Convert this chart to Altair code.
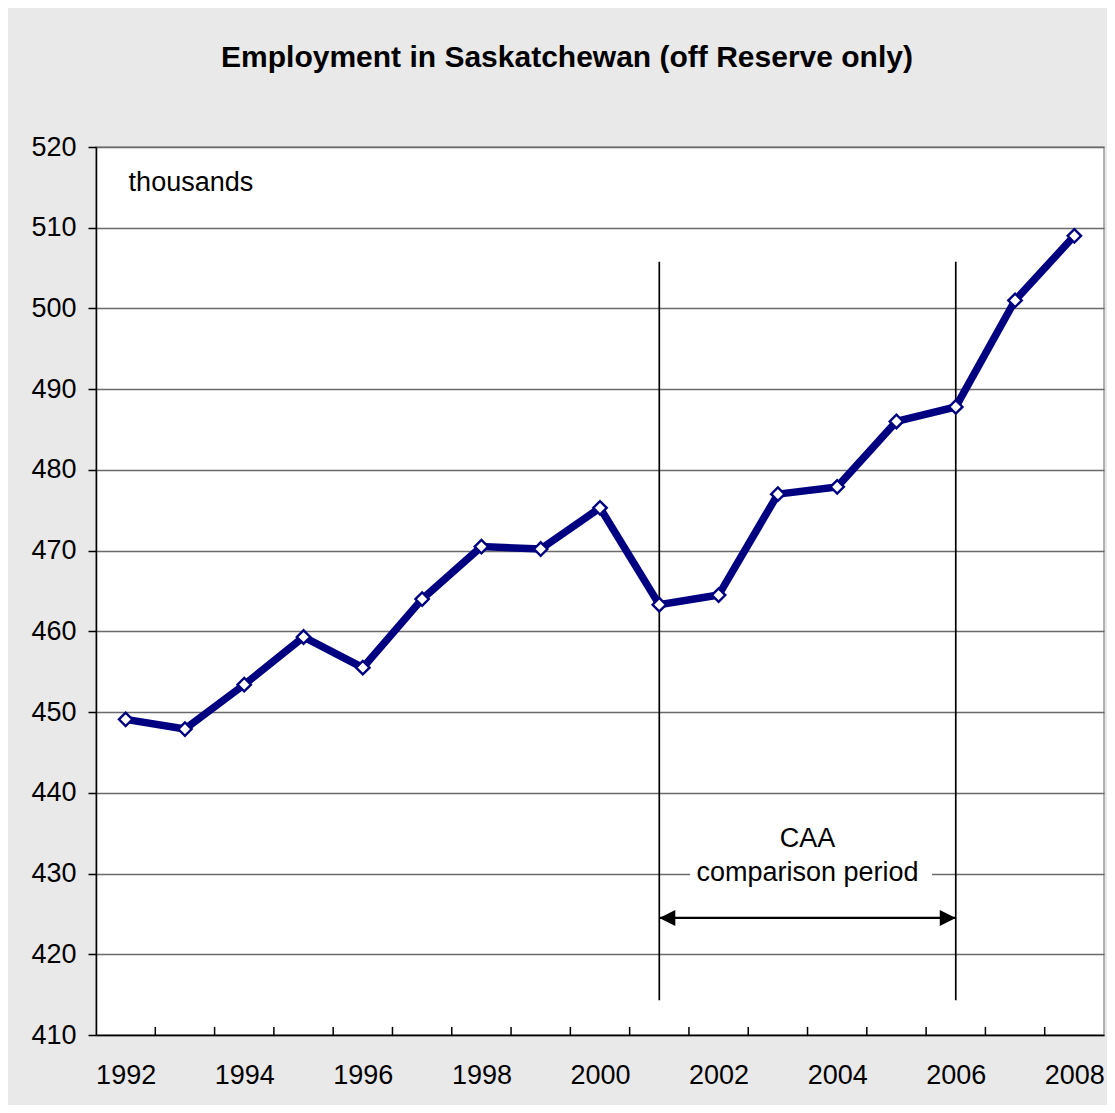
import altair as alt
import pandas as pd

years = list(range(1992, 2009))
employment = [449.1, 447.9, 453.4, 459.3, 455.5, 464.0, 470.5, 470.2, 475.3,
              463.3, 464.5, 477.0, 477.9, 486.0, 487.8, 501.0, 509.0]
label_years = [1992, 1994, 1996, 1998, 2000, 2002, 2004, 2006, 2008]
tick_years = [y + 0.5 for y in range(1992, 2008)]
y_ticks = [410, 420, 430, 440, 450, 460, 470, 480, 490, 500, 510, 520]

period_years = [2001, 2006]
period_bottom = 414.3
period_top = 505.8
arrow_level = 424.5
text_lines = ["CAA", "comparison period"]
text_levels = [434.3, 430.1]
text_center = 2003.5
unit_label = "thousands"

FONT = "Liberation Sans"
NAVY = "#000080"
FS = 27

df = pd.DataFrame({"year": years, "value": employment})
xs = alt.Scale(domain=[1991.5, 2008.5], nice=False, zero=False)
ys = alt.Scale(domain=[410, 520], nice=False, zero=False)

x_axis = alt.Axis(values=label_years, tickSize=0, labelFontSize=FS, labelFont=FONT,
                  labelColor="black", labelPadding=27, domainColor="black",
                  domainWidth=1.5, grid=False, title=None, format="d")
y_axis = alt.Axis(values=y_ticks, tickSize=8, tickColor="black", tickWidth=1.5,
                  labelFontSize=FS, labelFont=FONT, labelColor="black",
                  labelPadding=12, domainColor="black", domainWidth=1.5,
                  grid=True, gridColor="#6a6a6a", gridWidth=1.3, title=None)

line = alt.Chart(df).mark_line(color=NAVY, strokeWidth=7.5).encode(
    x=alt.X("year:Q", scale=xs, axis=x_axis),
    y=alt.Y("value:Q", scale=ys, axis=y_axis),
)
points = alt.Chart(df).mark_point(shape="diamond", filled=True, fill="white",
                                  stroke=NAVY, strokeWidth=2.4, size=180, opacity=1).encode(
    x="year:Q", y="value:Q")

ticks_df = pd.DataFrame({"x": tick_years, "y": [410] * len(tick_years), "y2": [411] * len(tick_years)})
xticks = alt.Chart(ticks_df).mark_rule(color="black", strokeWidth=1.5).encode(
    x="x:Q", y="y:Q", y2="y2:Q")

vl_df = pd.DataFrame({"x": period_years, "y": [period_bottom] * 2, "y2": [period_top] * 2})
vlines = alt.Chart(vl_df).mark_rule(color="black", strokeWidth=1.7).encode(
    x="x:Q", y="y:Q", y2="y2:Q")

arrow_df = pd.DataFrame({"x": [period_years[0]], "x2": [period_years[1]], "y": [arrow_level]})
arrow_line = alt.Chart(arrow_df).mark_rule(color="black", strokeWidth=2.2).encode(
    x="x:Q", x2="x2:Q", y="y:Q")
head_df = pd.DataFrame({"x": period_years, "y": [arrow_level] * 2,
                        "shape": ["M 0 0 L 1 -0.5 L 1 0.5 Z", "M 0 0 L -1 -0.5 L -1 0.5 Z"]})
heads = alt.Chart(head_df).mark_point(filled=True, color="black", size=1024, opacity=1).encode(
    x="x:Q", y="y:Q", shape=alt.Shape("shape:N", scale=None, legend=None))

mask_df = pd.DataFrame({"x": [2001.52], "x2": [2005.6], "y": [429.5], "y2": [430.5]})
mask = alt.Chart(mask_df).mark_rect(color="white").encode(x="x:Q", x2="x2:Q", y="y:Q", y2="y2:Q")

txt_df = pd.DataFrame({"x": [text_center] * 2, "y": text_levels, "t": text_lines})
texts = alt.Chart(txt_df).mark_text(font=FONT, fontSize=FS, color="black",
                                    align="center", baseline="middle").encode(
    x="x:Q", y="y:Q", text="t:N")

unit_df = pd.DataFrame({"x": [1992.05], "y": [515.6], "t": [unit_label]})
unit = alt.Chart(unit_df).mark_text(font=FONT, fontSize=FS, color="black",
                                    align="left", baseline="middle").encode(
    x="x:Q", y="y:Q", text="t:N")

chart = alt.layer(line, xticks, vlines, mask, texts, arrow_line, heads, points, unit).properties(
    width=1008, height=888,
    background="#e9e9e9",
    padding={"left": 88, "top": 139, "right": 3, "bottom": 70},
    autosize=alt.AutoSizeParams(type="none"),
    title=alt.TitleParams("Employment in Saskatchewan (off Reserve only)", font=FONT,
                          fontSize=30, fontWeight="bold", anchor="middle",
                          baseline="alphabetic", offset=36, dx=-33, color="black"),
).configure_view(stroke="#9a9a9a", strokeWidth=1.5, fill="white")

chart.save("out.html", embed_options={"renderer": "svg", "actions": False})
